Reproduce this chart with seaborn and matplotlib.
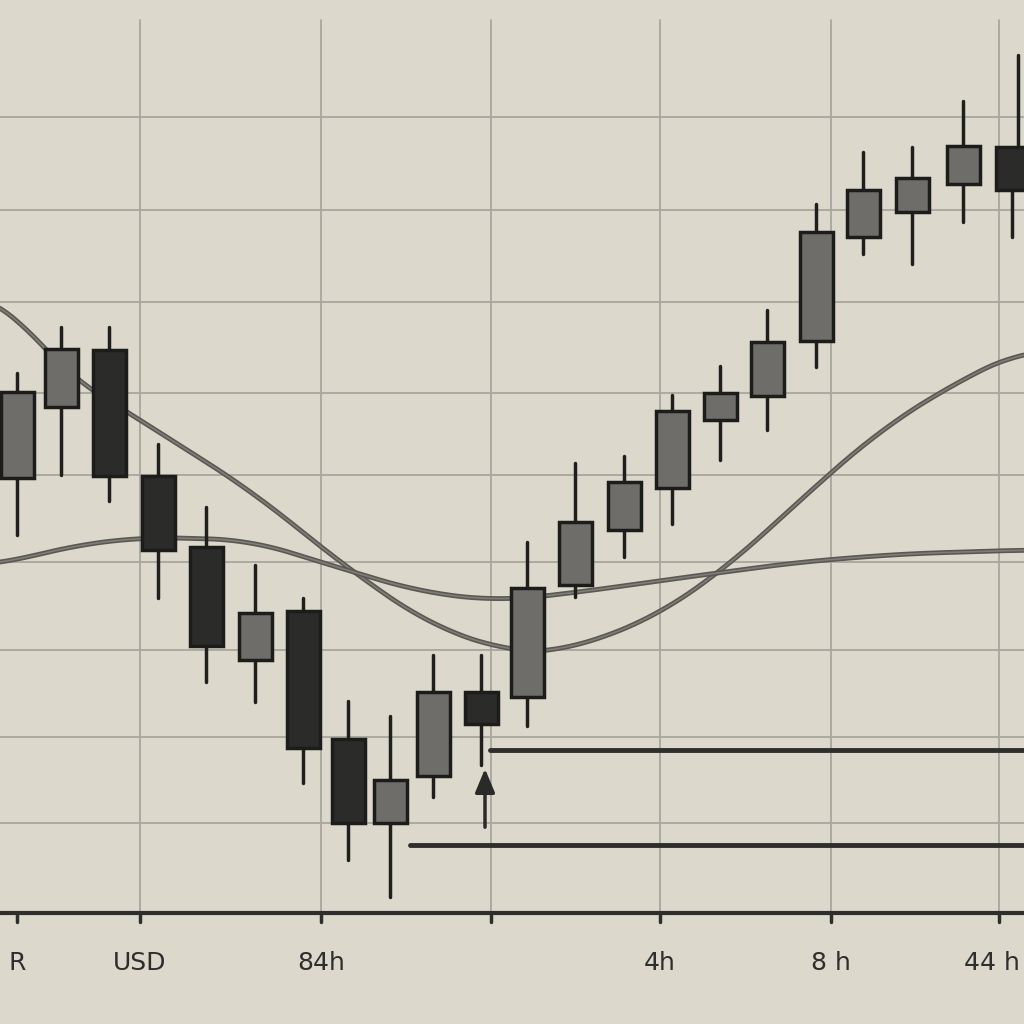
import matplotlib
matplotlib.use("Agg")
import matplotlib.pyplot as plt
import seaborn as sns
import pandas as pd
import numpy as np

# candle data (price units; higher = up)
xpos   = [17, 61, 109, 158, 206, 255, 303, 348, 390, 433, 481, 527, 575, 624, 672, 720, 767, 816, 863, 912, 963, 1012]
body_t = [392, 349, 350, 476, 547, 613, 611, 739, 780, 692, 692, 588, 522, 482, 411, 393, 342, 232, 190, 178, 146, 147]
body_b = [478, 407, 476, 550, 646, 660, 748, 823, 823, 776, 724, 697, 585, 530, 488, 420, 396, 341, 237, 212, 184, 190]
wick_t = [373, 327, 327, 444, 507, 565, 598, 701, 716, 655, 655, 542, 463, 456, 395, 366, 310, 204, 152, 147, 101, 55]
wick_b = [535, 475, 501, 598, 682, 702, 783, 860, 897, 797, 765, 726, 597, 557, 524, 460, 430, 367, 254, 264, 222, 237]
dark   = [0, 0, 1, 1, 1, 0, 1, 1, 0, 0, 1, 0, 0, 0, 0, 0, 0, 0, 0, 0, 0, 1]

ma1_x = [0, 60, 140, 250, 350, 430, 510, 560, 650, 730, 800, 880, 960, 1024]
ma1_y = [295, 370, 420, 490, 570, 625, 652, 652, 620, 565, 500, 430, 380, 350]
ma2_x = [0, 60, 140, 250, 330, 420, 500, 580, 680, 800, 900, 1024]
ma2_y = [565, 548, 537, 540, 565, 592, 601, 592, 578, 562, 554, 550]

grid_x = [140, 321, 491, 660, 831, 999]
grid_y = [117, 210, 302, 393, 475, 562, 650, 737, 823]
tick_x = [17, 140, 321, 491, 660, 831, 999]
tick_lbl = ["R", "USD", "84h", "", "4h", "8 h", "44 h"]

levels_y = [750, 845]
levels_x0 = [490, 410]

H = 1024
sns.set_theme(style="white")
plt.rcParams['font.family'] = ['DejaVu Sans']
bg = "#dcd8cb"
fig = plt.figure(figsize=(10.24, 10.24), dpi=100, facecolor=bg)
ax = fig.add_axes([0, 0, 1, 1], facecolor=bg)
ax.set_xlim(0, 1024); ax.set_ylim(0, 1024)
ax.axis("off")

for gx in grid_x:
    ax.plot([gx, gx], [H-913, H-20], color="#a9a69d", lw=1.3, zorder=1)
for gy in grid_y:
    ax.plot([0, 1024], [H-gy, H-gy], color="#a9a69d", lw=1.3, zorder=1)

df1 = pd.DataFrame({"x": ma1_x, "y": [H-v for v in ma1_y]})
df2 = pd.DataFrame({"x": ma2_x, "y": [H-v for v in ma2_y]})
for df in (df1, df2):
    xs = np.linspace(df.x.min(), df.x.max(), 300)
    ys = np.interp(xs, df.x, df.y)
    k = np.ones(25)/25
    ys = np.convolve(np.pad(ys, 12, mode="edge"), k, mode="valid")
    sm = pd.DataFrame({"x": xs, "y": ys})
    sns.lineplot(data=sm, x="x", y="y", ax=ax, color="#5a5853", lw=3.5, zorder=2)
    sns.lineplot(data=sm, x="x", y="y", ax=ax, color="#807d76", lw=1.2, zorder=2)

for x, bt, bb, wt, wb, d in zip(xpos, body_t, body_b, wick_t, wick_b, dark):
    wx = x + (6 if wt < 100 else 0)
    ax.plot([x, x], [H-wb, H-bb], color="#1f1f1e", lw=2.5, zorder=3)
    ax.plot([wx, wx], [H-bt, H-wt], color="#1f1f1e", lw=2.5, zorder=3)
    fc = "#2b2b2a" if d else "#6e6d69"
    ax.bar(x, bt-bb, bottom=H-bt, width=33, color=fc, edgecolor="#1c1c1b", lw=2.5, zorder=4)

for ly, lx in zip(levels_y, levels_x0):
    ax.plot([lx, 1024], [H-ly, H-ly], color="#2e2e2d", lw=3.5, zorder=3)
ax.annotate("", xy=(485, H-766), xytext=(485, H-830),
            arrowprops=dict(arrowstyle="-|>,head_width=0.5,head_length=1.2", color="#2a2a29", lw=2.5))

ax.plot([0, 1024], [H-913, H-913], color="#2e2e2d", lw=3, zorder=3)
for tx, tl in zip(tick_x, tick_lbl):
    ax.plot([tx, tx], [H-913, H-922], color="#2e2e2d", lw=2.5)
    ha = "center" if tx < 990 else "right"
    px = tx if tx < 990 else 1020
    ax.text(px, H-963, tl, ha=ha, va="center", fontsize=18, color="#2e2e2d", fontweight="medium")

fig.savefig("out.png", dpi=100, facecolor=bg)
